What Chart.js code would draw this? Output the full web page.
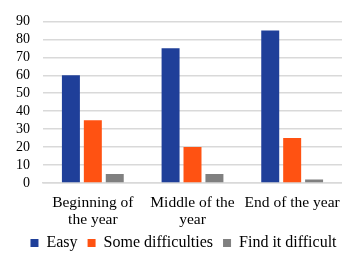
<!DOCTYPE html>
<html>
<head>
<meta charset="utf-8">
<script src="https://cdn.jsdelivr.net/npm/chart.js@4/dist/chart.umd.min.js"></script>
<style>
  html, body { margin: 0; padding: 0; background: #fff; }
  #wrap { width: 342px; height: 259px; }
</style>
</head>
<body>
<div id="wrap"><canvas id="chart" width="342" height="259"></canvas></div>
<script>
const categories = [['Beginning of', 'the year'], ['Middle of the', 'year'], 'End of the year'];
const easy = [60, 75, 85];
const someDifficulties = [35, 20, 25];
const findItDifficult = [5, 5, 2];
const yTicks = [0, 10, 20, 30, 40, 50, 60, 70, 80, 90];

const serif = "'Liberation Serif', 'DejaVu Serif', serif";
Chart.defaults.font.family = serif;

// legend: fixed height, then nudged right and up like the original
const legendTweak = {
  id: 'legendTweak',
  beforeLayout(chart) {
    const lg = chart.legend;
    if (lg && !lg._patched) {
      const fit = lg.fit.bind(lg);
      lg.fit = function () { fit(); this.height = 29; };
      lg._patched = true;
    }
  },
  afterLayout(chart) {
    const lg = chart.legend;
    if (lg) {
      lg.left += 11;
      lg.right += 11;
      lg.top -= 5;
      lg.bottom -= 5;
    }
  }
};

function drawChart() {
  const ctx = document.getElementById('chart').getContext('2d');
  return new Chart(ctx, {
    type: 'bar',
    data: {
      labels: categories,
      datasets: [
        { label: 'Easy', data: easy, backgroundColor: '#1f3f99' },
        { label: 'Some difficulties', data: someDifficulties, backgroundColor: '#ff5212' },
        { label: 'Find it difficult', data: findItDifficult, backgroundColor: '#808080' }
      ]
    },
    plugins: [legendTweak],
    options: {
      responsive: false,
      animation: false,
      devicePixelRatio: 1,
      layout: { padding: { left: 3, right: 0, top: 12, bottom: 0 } },
      datasets: {
        bar: { categoryPercentage: 0.66, barPercentage: 0.82 }
      },
      scales: {
        x: {
          afterFit: axis => {
            axis.height = 47;
            axis.paddingLeft = 0;
            axis.paddingRight = 0;
          },
          grid: { display: false },
          border: { color: '#d9d9d9', width: 1.5 },
          ticks: { color: '#000', font: { family: serif, size: 15.5, lineHeight: 1.1 }, maxRotation: 0, autoSkip: false, padding: 3 }
        },
        y: {
          min: 0,
          max: 90,
          afterBuildTicks: axis => { axis.ticks = yTicks.map(v => ({ value: v })); },
          grid: { color: '#d9d9d9', lineWidth: 1.5, drawTicks: false },
          border: { display: false },
          ticks: { color: '#000', font: { family: serif, size: 14 }, padding: 13, autoSkip: false }
        }
      },
      plugins: {
        legend: {
          position: 'bottom',
          labels: {
            color: '#000',
            font: { family: serif, size: 16 },
            boxWidth: 8,
            boxHeight: 8,
            padding: 10
          }
        },
        tooltip: { enabled: false }
      }
    }
  });
}

document.fonts.load("15px 'Liberation Serif'").then(drawChart, drawChart);
</script>
</body>
</html>
